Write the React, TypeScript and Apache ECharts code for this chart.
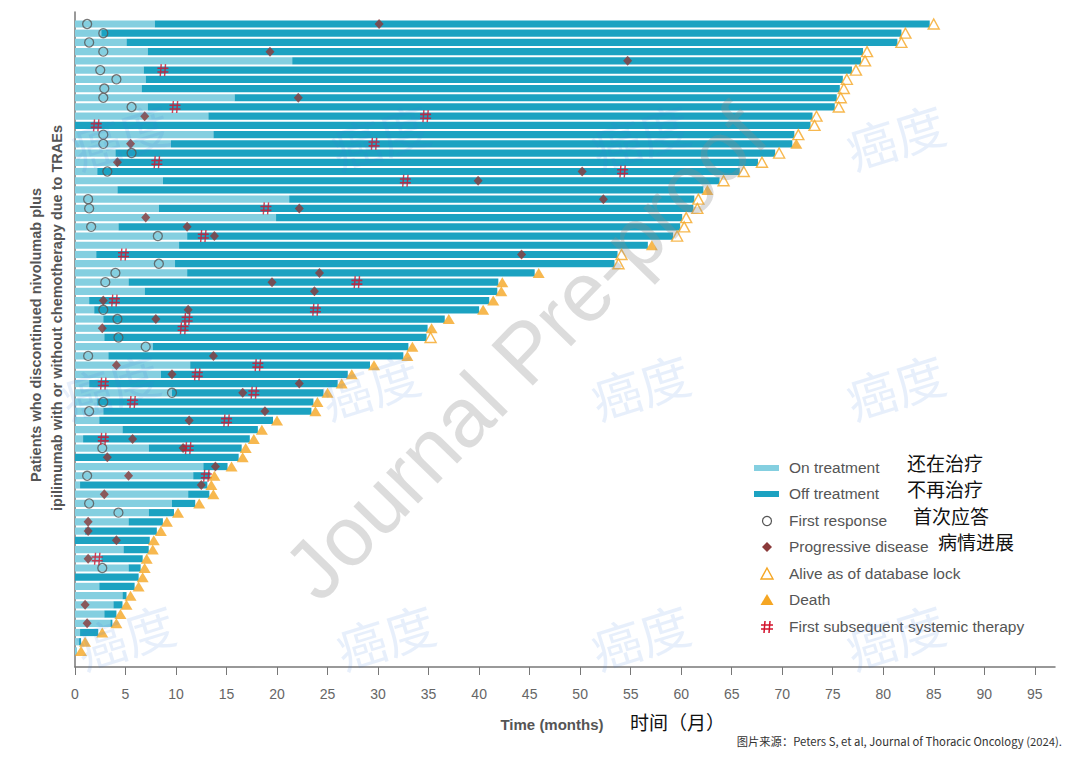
import React, { useEffect, useRef } from "react";
import * as echarts from "echarts";

// Months on treatment (light segment end), one value per patient, top to bottom
const onTreatmentEnd = [
  7.9, 2.6, 5.1, 7.2, 21.5, 6.8, 7.0, 6.6, 15.8, 7.2, 13.2, 0, 13.7, 9.5, 4.0, 4.0, 2.2, 8.7, 4.2, 21.2,
  8.3, 19.9, 4.3, 11.1, 10.3, 2.1, 9.9, 11.1, 5.3, 6.9, 1.4, 1.9, 2.8, 2.8, 2.9, 7.7, 3.3, 11.4, 8.5, 1.4,
  9.6, 2.2, 2.8, 2.4, 4.7, 0.8, 7.3, 0, 12.7, 11.7, 0.5, 11.2, 9.6, 7.3, 5.3, 1.0, 0, 4.8, 2.6, 5.3,
  0, 2.4, 4.7, 3.8, 2.9, 3.5, 0.5, 0.4, 0.2,
];

// Months of follow-up (end of bar)
const followUpEnd = [
  84.6, 81.8, 81.4, 78.0, 77.8, 76.9, 76.0, 75.7, 75.4, 75.2, 73.0, 72.8, 71.2, 71.0, 69.3, 67.6, 65.8, 63.8,
  62.2, 61.3, 61.2, 60.1, 59.9, 59.2, 56.7, 53.7, 53.4, 45.5, 41.9, 41.8, 41.0, 40.0, 36.6, 34.9, 34.8, 33.0,
  32.5, 29.2, 27.0, 26.0, 24.6, 23.6, 23.4, 19.6, 18.1, 17.3, 16.5, 16.2, 15.1, 13.4, 13.1, 13.3, 11.9, 9.8,
  8.7, 8.1, 7.4, 7.3, 6.7, 6.5, 6.3, 5.9, 5.1, 4.7, 4.1, 3.7, 2.3, 0.6, 0.2,
];

// Status at end of follow-up: A = alive as of database lock, D = death
const outcome = [
  "A", "A", "A", "A", "A", "A", "A", "A", "A", "A", "A", "A", "A", "D", "A", "A", "A", "A", "D", "A",
  "A", "A", "A", "A", "D", "A", "A", "D", "D", "D", "D", "D", "D", "D", "A", "D", "D", "D", "D", "D",
  "D", "D", "D", "D", "D", "D", "D", "D", "D", "D", "D", "D", "D", "D", "D", "D", "D", "D", "D", "D",
  "D", "D", "D", "D", "D", "D", "D", "D", "D",
];

// [patient row, month]
const firstResponse = [
  [0, 1.2], [1, 2.8], [2, 1.4], [3, 2.8], [5, 2.5], [6, 4.1], [7, 2.9], [8, 2.8], [9, 5.6], [12, 2.8],
  [13, 2.8], [14, 5.6], [16, 3.2], [19, 1.3], [20, 1.4], [22, 1.6], [23, 8.2], [26, 8.3], [27, 4.0],
  [28, 3.0], [31, 2.8], [32, 4.2], [34, 4.3], [35, 7.0], [36, 1.3], [40, 9.6], [41, 2.8], [42, 1.4],
  [46, 2.7], [49, 1.2], [52, 1.4], [53, 4.3], [59, 2.7],
];

const progressiveDisease = [
  [0, 30.1], [3, 19.3], [4, 54.7], [8, 22.1], [10, 6.9], [13, 5.5], [15, 4.2], [16, 50.2], [17, 39.9],
  [19, 52.3], [20, 22.2], [21, 7.0], [22, 11.1], [23, 13.8], [25, 44.2], [27, 24.2], [28, 19.5], [29, 23.7],
  [30, 2.8], [31, 11.2], [32, 8.0], [33, 2.7], [36, 13.7], [37, 4.1], [38, 9.6], [39, 22.2], [40, 16.6],
  [42, 18.8], [43, 11.3], [45, 5.7], [46, 10.7], [47, 3.2], [48, 13.9], [49, 5.3], [50, 12.5], [51, 2.9],
  [54, 1.3], [55, 1.3], [56, 4.1], [58, 1.3], [63, 1.0], [65, 1.2],
];

const subsequentTherapy = [
  [5, 8.7], [9, 9.9], [10, 34.7], [11, 2.1], [13, 29.6], [15, 8.1], [16, 54.2], [17, 32.7], [20, 18.9],
  [23, 12.7], [25, 4.8], [28, 27.9], [30, 3.9], [31, 23.8], [32, 11.1], [33, 10.7], [37, 18.1], [38, 12.1],
  [39, 2.8], [40, 17.7], [41, 5.7], [43, 15.0], [45, 2.8], [46, 11.2], [49, 13.0], [58, 2.2],
];

const tickValues = [0, 5, 10, 15, 20, 25, 30, 35, 40, 45, 50, 55, 60, 65, 70, 75, 80, 85, 90, 95];

const legendItems = [
  { label: "On treatment", zh: "还在治疗", zhX: 907 },
  { label: "Off treatment", zh: "不再治疗", zhX: 907 },
  { label: "First response", zh: "首次应答", zhX: 913 },
  { label: "Progressive disease", zh: "病情进展", zhX: 938 },
  { label: "Alive as of database lock", zh: "", zhX: 0 },
  { label: "Death", zh: "", zhX: 0 },
  { label: "First subsequent systemic therapy", zh: "", zhX: 0 },
];

const LIGHT = "#84CFE0";
const DARK = "#1CA2C1";
const DIAMOND = "#8B3A3A";
const ORANGE = "#F5A623";
const RED = "#D3132D";
const CIRCLE = "#555555";
const FONT = "'Liberation Sans', Arial, sans-serif";
const HASH = "path://M4,0L3,12M8.5,0L7.5,12M0,4.2L11.5,4.2M0,8L11.5,8";

function barRenderer(color: string) {
  return (params: any, api: any) => {
    const row = api.value(2);
    const s = api.coord([api.value(0), row]);
    const e = api.coord([api.value(1), row]);
    return {
      type: "rect",
      shape: { x: s[0], y: s[1] - 3.6, width: Math.max(0, e[0] - s[0]), height: 7.2 },
      style: { fill: color },
    };
  };
}

export default function App() {
  const ref = useRef<HTMLDivElement>(null);
  useEffect(() => {
    if (!ref.current) return;
    const chart = echarts.init(ref.current, null, { renderer: "svg" });
    const rows = onTreatmentEnd.map((_, i) => i);
    const lightData = rows.map((i) => [0, onTreatmentEnd[i], i]);
    const darkData = rows.map((i) => [onTreatmentEnd[i], followUpEnd[i], i]);
    const aliveData = rows.filter((i) => outcome[i] === "A").map((i) => [followUpEnd[i], i]);
    const deathData = rows.filter((i) => outcome[i] === "D").map((i) => [followUpEnd[i], i]);

    const legendY = [468, 494, 521, 547, 574, 600, 627];
    const legendGraphics: any[] = [];
    legendItems.forEach((it, k) => {
      const y = legendY[k];
      legendGraphics.push({
        type: "text",
        left: 789,
        top: y - 9,
        style: { text: it.label, fill: "#555", font: `15.5px ${FONT}` },
        z: 20,
      });
      if (it.zh) {
        legendGraphics.push({
          type: "text",
          left: it.zhX,
          top: y - 15,
          style: { text: it.zh, fill: "#111", font: `19px 'Noto Sans CJK SC', sans-serif` },
          z: 20,
        });
      }
    });
    const ix = 767;
    legendGraphics.push(
      { type: "rect", shape: { x: 754, y: legendY[0] - 3, width: 25, height: 6 }, style: { fill: LIGHT }, z: 20 },
      { type: "rect", shape: { x: 754, y: legendY[1] - 3, width: 25, height: 6 }, style: { fill: DARK }, z: 20 },
      { type: "circle", shape: { cx: ix, cy: legendY[2], r: 4.5 }, style: { fill: "none", stroke: CIRCLE, lineWidth: 1.2 }, z: 20 },
      {
        type: "polygon",
        shape: { points: [[ix, legendY[3] - 5], [ix + 5, legendY[3]], [ix, legendY[3] + 5], [ix - 5, legendY[3]]] },
        style: { fill: DIAMOND },
        z: 20,
      },
      {
        type: "polygon",
        shape: { points: [[ix, legendY[4] - 6], [ix + 6, legendY[4] + 5], [ix - 6, legendY[4] + 5]] },
        style: { fill: "none", stroke: ORANGE, lineWidth: 1.4 },
        z: 20,
      },
      {
        type: "polygon",
        shape: { points: [[ix, legendY[5] - 6], [ix + 6.5, legendY[5] + 5], [ix - 6.5, legendY[5] + 5]] },
        style: { fill: ORANGE },
        z: 20,
      },
      { type: "line", shape: { x1: ix - 2, y1: legendY[6] - 6, x2: ix - 3, y2: legendY[6] + 6 }, style: { stroke: RED, lineWidth: 1.5 }, z: 20 },
      { type: "line", shape: { x1: ix + 3, y1: legendY[6] - 6, x2: ix + 2, y2: legendY[6] + 6 }, style: { stroke: RED, lineWidth: 1.5 }, z: 20 },
      { type: "line", shape: { x1: ix - 6, y1: legendY[6] - 2, x2: ix + 6, y2: legendY[6] - 2 }, style: { stroke: RED, lineWidth: 1.5 }, z: 20 },
      { type: "line", shape: { x1: ix - 6, y1: legendY[6] + 2, x2: ix + 6, y2: legendY[6] + 2 }, style: { stroke: RED, lineWidth: 1.5 }, z: 20 }
    );

    const wmPos = [
      [120, 135], [380, 135], [640, 135], [895, 135],
      [110, 385], [370, 385], [640, 385], [895, 385],
      [125, 635], [385, 635], [640, 635], [895, 635],
    ];
    const watermarks: any[] = wmPos.map((p) => ({
      type: "text",
      x: p[0],
      y: p[1],
      rotation: 0.3,
      silent: true,
      z: 30,
      style: {
        text: "癌度",
        fill: "#3d7be0",
        opacity: 0.12,
        font: `50px 'Noto Sans CJK SC', sans-serif`,
        textAlign: "center",
        textVerticalAlign: "middle",
      },
    }));
    watermarks.push({
      type: "text",
      x: 525,
      y: 352,
      rotation: 0.8,
      silent: true,
      z: 31,
      style: {
        text: "Journal Pre-proof",
        fill: "#8a8a8a",
        opacity: 0.3,
        font: `84px ${FONT}`,
        textAlign: "center",
        textVerticalAlign: "middle",
      },
    });

    const option: any = {
      animation: false,
      grid: { left: 75, right: 25, top: 12, bottom: 90 },
      xAxis: {
        type: "value",
        min: 0,
        max: 97,
        interval: 5,
        axisLine: { show: true, onZero: false, lineStyle: { color: "#777", width: 1.5 } },
        axisTick: { show: true, length: 8, lineStyle: { color: "#777" }, customValues: tickValues },
        axisLabel: { color: "#666", fontSize: 14, margin: 20, fontFamily: FONT, customValues: tickValues },
        splitLine: { show: false },
      },
      yAxis: {
        type: "value",
        inverse: true,
        min: -1.3,
        max: 69.74,
        axisLine: { show: true, onZero: false, lineStyle: { color: "#777", width: 1.5 } },
        axisTick: { show: false },
        axisLabel: { show: false },
        splitLine: { show: false },
      },
      series: [
        {
          name: "On treatment",
          type: "custom",
          renderItem: barRenderer(LIGHT),
          encode: { x: [0, 1], y: 2 },
          data: lightData,
          z: 1,
        },
        {
          name: "Off treatment",
          type: "custom",
          renderItem: barRenderer(DARK),
          encode: { x: [0, 1], y: 2 },
          data: darkData,
          z: 1,
        },
        {
          name: "First response",
          type: "scatter",
          symbol: "circle",
          symbolSize: 9,
          itemStyle: { color: "rgba(0,0,0,0)", borderColor: CIRCLE, borderWidth: 1.3 },
          data: firstResponse.map((d) => [d[1], d[0]]),
          z: 3,
        },
        {
          name: "Progressive disease",
          type: "scatter",
          symbol: "diamond",
          symbolSize: [9, 10],
          itemStyle: { color: DIAMOND },
          data: progressiveDisease.map((d) => [d[1], d[0]]),
          z: 4,
        },
        {
          name: "First subsequent systemic therapy",
          type: "scatter",
          symbol: HASH,
          symbolSize: [11, 12],
          itemStyle: { color: "rgba(0,0,0,0)", borderColor: RED, borderWidth: 1.5 },
          data: subsequentTherapy.map((d) => [d[1], d[0]]),
          z: 5,
        },
        {
          name: "Alive as of database lock",
          type: "scatter",
          symbol: "triangle",
          symbolSize: [11, 10],
          symbolOffset: [4, 0],
          itemStyle: { color: "rgba(255,255,255,0.55)", borderColor: ORANGE, borderWidth: 1.4 },
          data: aliveData,
          z: 6,
        },
        {
          name: "Death",
          type: "scatter",
          symbol: "triangle",
          symbolSize: [12, 10],
          symbolOffset: [4, 0],
          itemStyle: { color: ORANGE },
          data: deathData,
          z: 6,
        },
      ],
      graphic: [
        ...legendGraphics,
        {
          type: "text",
          x: 36,
          y: 335,
          rotation: Math.PI / 2,
          style: {
            text: "Patients who discontinued nivolumab plus",
            fill: "#555",
            font: `bold 14.5px ${FONT}`,
            textAlign: "center",
            textVerticalAlign: "middle",
          },
        },
        {
          type: "text",
          x: 57,
          y: 318,
          rotation: Math.PI / 2,
          style: {
            text: "ipilimumab with or without chemotherapy due to TRAEs",
            fill: "#555",
            font: `bold 14.5px ${FONT}`,
            textAlign: "center",
            textVerticalAlign: "middle",
          },
        },
        {
          type: "text",
          x: 552,
          y: 724,
          style: { text: "Time (months)", fill: "#555", font: `bold 15px ${FONT}`, textAlign: "center", textVerticalAlign: "middle" },
        },
        {
          type: "text",
          x: 630,
          y: 721,
          style: { text: "时间（月）", fill: "#111", font: `19px 'Noto Sans CJK SC', sans-serif`, textAlign: "left", textVerticalAlign: "middle" },
        },
        {
          type: "text",
          x: 1062,
          y: 741,
          style: {
            text: "图片来源：Peters S, et al, Journal of Thoracic Oncology (2024).",
            fill: "#333",
            font: `11.3px 'Noto Sans CJK SC', ${FONT}`,
            textAlign: "right",
            textVerticalAlign: "middle",
          },
        },
        ...watermarks,
      ],
    };
    chart.setOption(option);
    return () => chart.dispose();
  }, []);
  return (
    <div
      ref={ref}
      style={{ position: "fixed", left: 0, top: 0, width: 1080, height: 757, background: "#fff" }}
    />
  );
}
